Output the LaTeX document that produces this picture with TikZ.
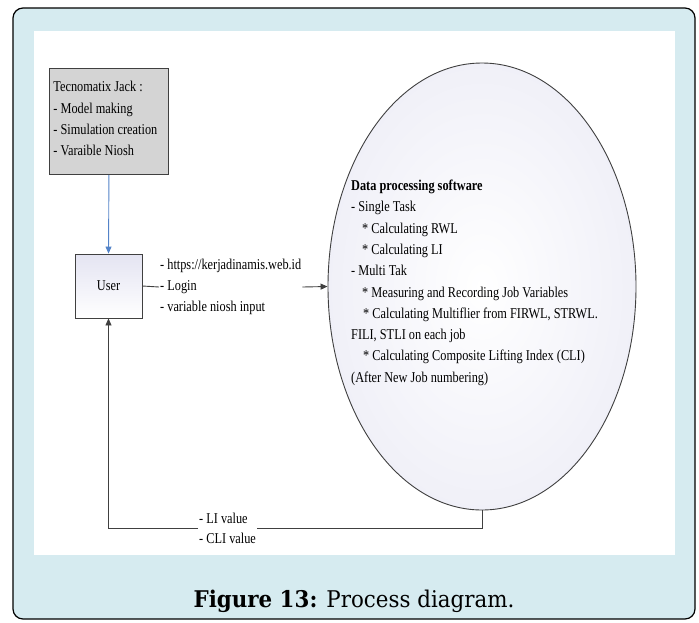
\documentclass[tikz,border=0pt]{standalone}
\usepackage{fontspec}
\usetikzlibrary{arrows.meta,shapes.geometric}
\newfontfamily\dfont[FakeStretch=0.82]{Liberation Serif}
\newfontfamily\capfont[FakeStretch=0.93]{DejaVu Serif}
\definecolor{bgblue}{HTML}{D6EBF0}
\definecolor{boxgray}{HTML}{D4D4D4}
\definecolor{linegray}{HTML}{404040}
\definecolor{arrowblue}{HTML}{5383C8}
\definecolor{lav}{HTML}{E4E4F2}
\tikzset{
  dtext/.style={font={\dfont\fontsize{15}{21.3}\selectfont}},
  boxshape/.style={draw=linegray, line width=0.9pt},
  conn/.style={draw=linegray, line width=0.9pt},
  tip/.style={-{Triangle[length=7pt,width=6pt]}},
  lbl/.style={dtext, fill=white, inner xsep=1pt, inner ysep=0pt, align=left},
}
\begin{document}
\begin{tikzpicture}[x=1pt,y=-1pt]
\useasboundingbox (0,0) rectangle (699,622);
% frame
\draw[fill=bgblue, draw=black, line width=1.2pt, rounded corners=10pt] (13,8) rectangle (695,619);
\fill[white] (34,31) rectangle (675,555);
% nodes
\node[boxshape, fill=boxgray, dtext, align=flush left, anchor=north west,
      minimum width=119pt, minimum height=106pt, text width=111pt, inner xsep=4pt, inner ysep=0pt]
  (jack) at (49,68) {Tecnomatix Jack :\\- Model making\\- Simulation creation\\- Varaible Niosh\rule[-6pt]{0pt}{6pt}};
\node[boxshape, top color=lav, bottom color=white, dtext, minimum width=67pt, minimum height=64pt, inner sep=0pt]
  (user) at (108.5,286) {User};
\node[ellipse, draw=linegray, line width=0.9pt, inner color=white, outer color=lav!55!white,
      minimum width=308pt, minimum height=447pt, inner sep=0pt]
  (proc) at (482,286.5) {};
\node[dtext, align=left, anchor=north west, inner sep=0pt] (proctxt) at (351,179.8)
  {\textbf{Data processing software}\\
   - Single Task\\
   \hspace*{11pt}* Calculating RWL\\
   \hspace*{11pt}* Calculating LI\\
   - Multi Tak\\
   \hspace*{11pt}* Measuring and Recording Job Variables\\
   \hspace*{12pt}* Calculating Multiflier from FIRWL, STRWL.\\
   FILI, STLI on each job\\
   \hspace*{12pt}* Calculating Composite Lifting Index (CLI)\\
   (After New Job numbering)};
\node[lbl, anchor=west] (ulabel) at (159,287)
  {- https://kerjadinamis.web.id\\- Login\\- variable niosh input};
\node[lbl, anchor=west, font={\dfont\fontsize{15}{20}\selectfont}] (rlabel) at (198,528.5)
  {- LI value\\- CLI value};
% connectors
\draw[draw=arrowblue, line width=0.9pt, -{Triangle[length=7pt,width=6pt]}] (jack.south) -- (user.north);
\draw[conn] (user.east) -- (ulabel.west);
\draw[conn, tip] (ulabel.east) -- (proc.west);
\draw[conn] (proc.south) |- (rlabel.east);
\draw[conn, tip] (rlabel.west) -| (user.south);
% caption
\node[anchor=base, font={\capfont\fontsize{23}{26}\selectfont}] (cap) at (354,607)
  {\textbf{Figure 13:} Process diagram.};
\end{tikzpicture}
\end{document}
